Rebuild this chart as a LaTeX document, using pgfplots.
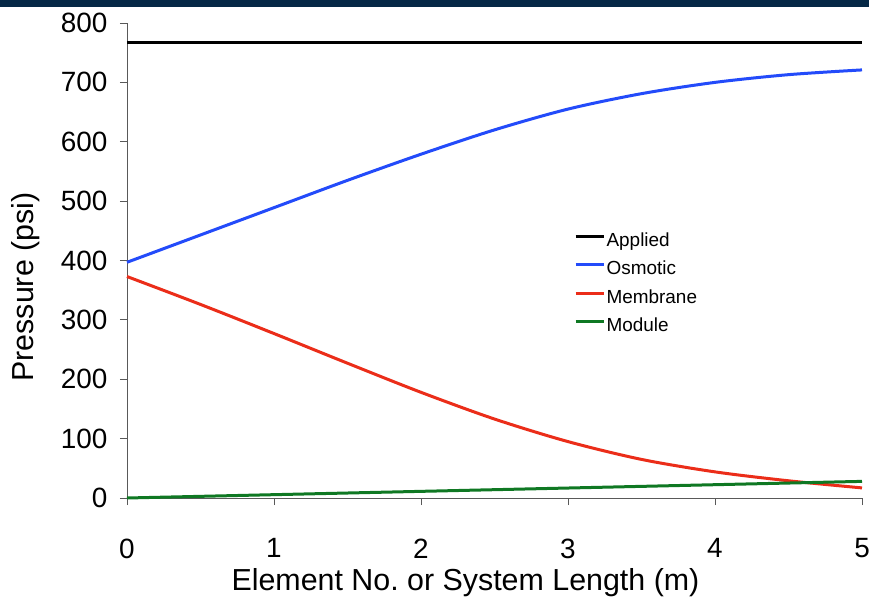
\documentclass[border=0pt]{standalone}
\usepackage{pgfplots}
\pgfplotsset{compat=1.18}
\usepackage{fontspec}
\setmainfont{Liberation Sans}
\definecolor{cBlue}{RGB}{35,75,250}
\definecolor{cRed}{RGB}{235,45,25}
\definecolor{cGreen}{RGB}{15,120,35}
\definecolor{cBand}{RGB}{5,40,70}
\begin{document}
\begin{tikzpicture}
\useasboundingbox (-127bp,-104bp) rectangle (742bp,498bp);
\fill[cBand] (-127bp,491bp) rectangle (742bp,498bp);
\begin{axis}[
  at={(0,0)}, anchor=south west,
  scale only axis, width=735bp, height=475bp,
  xmin=0, xmax=5, ymin=0, ymax=800,
  xtick={0,1,2,3,4,5}, ytick={0,100,...,800},
  axis x line=bottom, axis y line=left,
  axis line style={-, line width=0.9pt, black!65},
  tick style={line width=0.9pt, black!65},
  tick align=outside, major tick length=7bp,
  /pgf/number format/assume math mode=true,
  tick label style={font=\fontsize{28}{32}\selectfont},
  xticklabel style={yshift=-30bp},
  yticklabel style={xshift=-9bp},
  xlabel={Element No.\ or System Length (m)},
  ylabel={Pressure (psi)},
  label style={font=\fontsize{30.5}{34}\selectfont},
  xlabel style={at={(axis description cs:0.4605,-0.1937)}, anchor=base},
  ylabel style={at={(axis description cs:-0.127,0.444)}, anchor=base, rotate=0},
  legend style={at={(axis cs:3.04,447)}, anchor=north west, draw=none, fill=none,
    font=\fontsize{19}{22}\selectfont, row sep=10.2bp, inner sep=0pt,
    nodes={inner xsep=1.5bp, inner ysep=0pt, text height=14bp, text depth=4bp},
    /tikz/every even column/.append style={column sep=0pt}},
  legend cell align=left,
  legend image code/.code={\draw[#1, line width=3bp] (0,5bp) -- (28bp,5bp);},
  clip=false,
]
\addplot[black, line width=3bp] coordinates {(0,768) (5,768)};
\addlegendentry{Applied}
\addplot[cBlue, line width=3bp, smooth] coordinates {
(0,397) (0.5,443) (1,489) (1.5,535) (2,579) (2.5,620) (3,655) (3.5,681) (4,700) (4.5,713) (5,721)};
\addlegendentry{Osmotic}
\addplot[cRed, line width=3bp, smooth] coordinates {
(0,373) (0.5,326) (1,277) (1.5,227) (2,178) (2.5,133) (3,95) (3.5,65) (4,44) (4.5,29) (5,17)};
\addlegendentry{Membrane}
\addplot[cGreen, line width=3bp] coordinates {
(0,0) (1,5.6) (2,11.2) (3,16.8) (4,22.4) (5,28)};
\addlegendentry{Module}
\end{axis}
\end{tikzpicture}
\end{document}
